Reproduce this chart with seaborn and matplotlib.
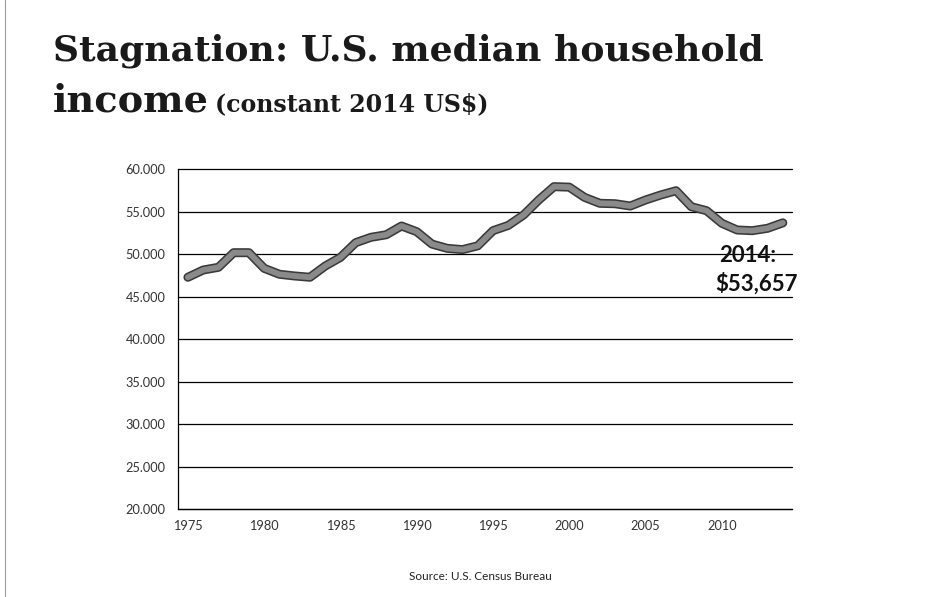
import matplotlib
matplotlib.use("Agg")
import matplotlib.pyplot as plt
import matplotlib.patheffects as pe
import seaborn as sns
import pandas as pd

years = list(range(1975, 2015))
income = [47300, 48150, 48470, 50190, 50190, 48350, 47650, 47450, 47300, 48620,
          49640, 51370, 52000, 52300, 53330, 52660, 51200, 50700, 50550, 51000,
          52780, 53400, 54620, 56390, 57960, 57900, 56700, 56000, 55950, 55680,
          56390, 56980, 57480, 55600, 55130, 53650, 52860, 52780, 53060, 53700]
ytick_vals = [20000, 25000, 30000, 35000, 40000, 45000, 50000, 55000, 60000]
ytick_labels = ["20.000", "25.000", "30.000", "35.000", "40.000",
                "45.000", "50.000", "55.000", "60.000"]
xtick_vals = [1975, 1980, 1985, 1990, 1995, 2000, 2005, 2010]

df = pd.DataFrame({"year": years, "income": income})

sns.set_style("white")
plt.rcParams["font.family"] = ["Lato", "DejaVu Sans"]

fig = plt.figure(figsize=(9.36, 5.97), dpi=100)
ax = fig.add_axes([178 / 936, 1 - 509.3 / 597, (792 - 178) / 936, (509.3 - 169.3) / 597])

sns.lineplot(data=df, x="year", y="income", ax=ax, color="#8a8a8a", linewidth=4.2)
line = ax.lines[0]
line.set_path_effects([pe.Stroke(linewidth=6.5, foreground="#3a3a3a"), pe.Normal()])
line.set_solid_capstyle("round")

ax.set_xlim(1974.35, 2014.6)
ax.set_ylim(20000, 60000)
ax.set_yticks(ytick_vals)
ax.set_yticklabels(ytick_labels)
ax.set_xticks(xtick_vals)
ax.set_xticks(years, minor=True)
ax.set_xlabel("")
ax.set_ylabel("")
ax.yaxis.grid(True, color="black", linewidth=0.9)
ax.set_axisbelow(True)
for s in ["top", "right"]:
    ax.spines[s].set_visible(False)
for s in ["left", "bottom"]:
    ax.spines[s].set_color("black")
    ax.spines[s].set_linewidth(0.9)
ax.tick_params(axis="both", which="both", direction="out", colors="black",
               labelcolor="#333333", labelsize=9.2)
ax.tick_params(axis="y", length=4, width=0.8, pad=5)
ax.tick_params(axis="x", which="major", length=4, width=0.8, pad=4)
ax.tick_params(axis="x", which="minor", length=3, width=0.8)
for gl in ax.get_ygridlines():
    gl.set_clip_on(False)

ax.text(2009.8, 49900, "2014:", fontsize=16, fontweight="bold", color="#111111",
        ha="left", va="center")
ax.text(2009.6, 46600, "$53,657", fontsize=16, fontweight="bold", color="#111111",
        ha="left", va="center")

fig.text(53 / 936, 1 - 60 / 597, "Stagnation: U.S. median household",
         family="DejaVu Serif", fontweight="bold", fontsize=26, color="#1a1a1a",
         ha="left", va="baseline")
fig.text(53 / 936, 1 - 111 / 597, "income", family="DejaVu Serif",
         fontweight="bold", fontsize=27.5, color="#1a1a1a", ha="left", va="baseline")
fig.text(215 / 936, 1 - 111 / 597, "(constant 2014 US$)", family="DejaVu Serif",
         fontweight="bold", fontsize=17, color="#1a1a1a", ha="left", va="baseline")

fig.text(480 / 936, 1 - 577 / 597, "Source: U.S. Census Bureau", fontsize=8.5,
         color="#222222", ha="center", va="center")

# thin scan frame on the left edge
fig.add_artist(plt.Line2D([5 / 936, 5 / 936], [0, 1], color="#9a9a9a",
                          linewidth=0.8, transform=fig.transFigure))

fig.savefig("out.png", dpi=100)
